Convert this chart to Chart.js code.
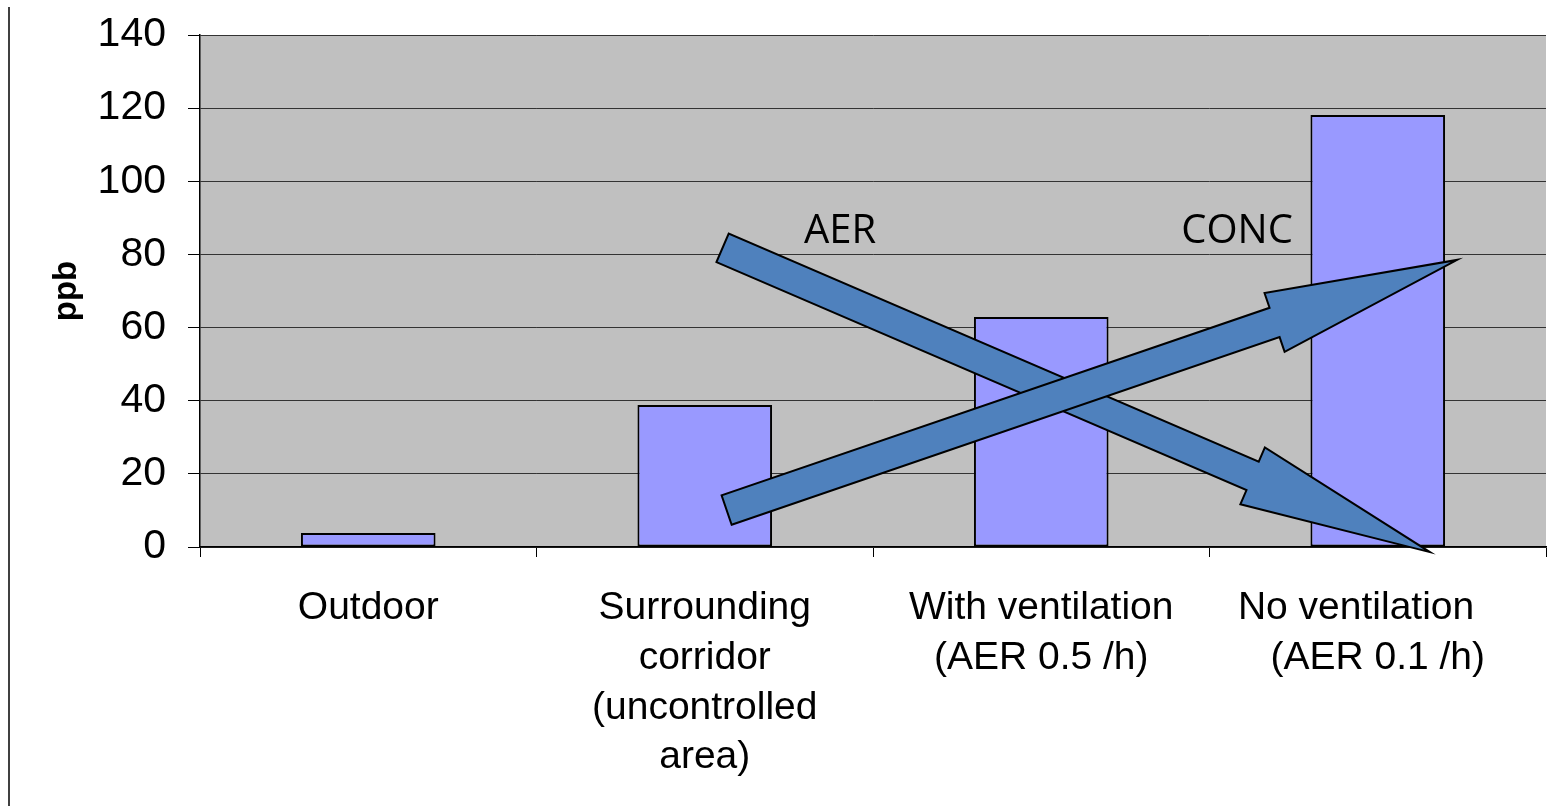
<!DOCTYPE html>
<html lang="en">
<head>
    <meta charset="UTF-8">
    <title>ppb by location</title>
    <script src="https://cdn.jsdelivr.net/npm/chart.js"></script>
    <style>
        body {
            margin: 0;
            background: #fff;
        }
        #wrap {
            width: 1560px;
            height: 806px;
        }
    </style>
</head>
<body>
    <div id="wrap"><canvas id="ppbChart" width="1560" height="806"></canvas></div>

    <script>
        // chart data
        const categories = [
            ['Outdoor'],
            ['Surrounding', 'corridor', '(uncontrolled', 'area)'],
            ['With ventilation', '(AER 0.5 /h)'],
            ['No ventilation    ', '(AER 0.1 /h)']
        ];
        const ppbValues = [3.8, 38.8, 62.9, 118.1];
        const yTicks = [0, 20, 40, 60, 80, 100, 120, 140];

        // the two annotation arrows, in axis units (category index, ppb)
        const arrows = [
            { text: 'AER',  from: [1.053, 81.8], to: [3.155, -1.4], textAt: [1.402, 86.2] },
            { text: 'CONC', from: [1.065, 10.1], to: [3.236, 78.5], textAt: [2.582, 86.2] }
        ];

        // grey plot background + left frame line
        const backdrop = {
            id: 'backdrop',
            beforeDraw(chart) {
                const { ctx, chartArea: a } = chart;
                ctx.save();
                ctx.fillStyle = '#c0c0c0';
                ctx.fillRect(a.left, a.top, a.right - a.left, a.bottom - a.top);
                ctx.strokeStyle = '#404040';
                ctx.lineWidth = 2;
                ctx.beginPath();
                ctx.moveTo(9, 7);
                ctx.lineTo(9, 806);
                ctx.stroke();
                ctx.restore();
            }
        };

        // block arrows drawn on top of the bars
        const arrowPlugin = {
            id: 'arrowPlugin',
            afterDatasetsDraw(chart) {
                const { ctx, scales: { x, y } } = chart;
                const shaft = 15.5, head = 31, headLen = 193;
                ctx.save();
                arrows.forEach(ar => {
                    const x0 = x.getPixelForValue(ar.from[0]), y0 = y.getPixelForValue(ar.from[1]);
                    const x1 = x.getPixelForValue(ar.to[0]), y1 = y.getPixelForValue(ar.to[1]);
                    const len = Math.hypot(x1 - x0, y1 - y0);
                    const ux = (x1 - x0) / len, uy = (y1 - y0) / len;
                    const nx = -uy, ny = ux;
                    const bx = x1 - ux * headLen, by = y1 - uy * headLen;
                    ctx.beginPath();
                    ctx.moveTo(x0 + nx * shaft, y0 + ny * shaft);
                    ctx.lineTo(bx + nx * shaft, by + ny * shaft);
                    ctx.lineTo(bx + nx * head, by + ny * head);
                    ctx.lineTo(x1, y1);
                    ctx.lineTo(bx - nx * head, by - ny * head);
                    ctx.lineTo(bx - nx * shaft, by - ny * shaft);
                    ctx.lineTo(x0 - nx * shaft, y0 - ny * shaft);
                    ctx.closePath();
                    ctx.fillStyle = '#4f81bd';
                    ctx.fill();
                    ctx.lineWidth = 2;
                    ctx.lineJoin = 'miter';
                    ctx.strokeStyle = '#000';
                    ctx.stroke();

                    ctx.fillStyle = '#000';
                    ctx.font = '40px "Open Sans", sans-serif';
                    ctx.textAlign = 'center';
                    ctx.textBaseline = 'middle';
                    ctx.fillText(ar.text, x.getPixelForValue(ar.textAt[0]), y.getPixelForValue(ar.textAt[1]));
                });
                ctx.restore();
            }
        };

        const ctx = document.getElementById('ppbChart').getContext('2d');
        new Chart(ctx, {
            type: 'bar',
            data: {
                labels: categories,
                datasets: [{
                    data: ppbValues,
                    backgroundColor: '#9999ff',
                    borderColor: '#000',
                    borderWidth: 2,
                    borderSkipped: false,
                    barPercentage: 0.4,
                    categoryPercentage: 1.0
                }]
            },
            options: {
                responsive: false,
                animation: false,
                layout: { padding: { top: 35, right: 14, left: 0, bottom: 0 } },
                plugins: {
                    legend: { display: false },
                    tooltip: { enabled: false }
                },
                scales: {
                    x: {
                        afterFit(s) { s.height = 259; },
                        grid: {
                            offset: true,
                            drawOnChartArea: false,
                            color: '#000',
                            tickLength: 10
                        },
                        border: { color: '#000', width: 1.5 },
                        ticks: {
                            color: '#000',
                            maxRotation: 0,
                            autoSkip: false,
                            padding: 26,
                            font: { family: '"Liberation Sans", Arial, sans-serif', size: 39, lineHeight: 1.28 }
                        }
                    },
                    y: {
                        min: 0,
                        max: 140,
                        afterFit(s) {
                            s.width = 200;
                            s.paddingTop = 0;
                            s.paddingBottom = 0;
                        },
                        afterBuildTicks(s) { s.ticks = yTicks.map(v => ({ value: v })); },
                        grid: {
                            color: '#333',
                            tickLength: 12,
                            tickColor: '#000'
                        },
                        border: { color: '#000', width: 1.5 },
                        ticks: {
                            color: '#000',
                            padding: 22,
                            font: { family: '"Liberation Sans", Arial, sans-serif', size: 41 }
                        },
                        title: {
                            display: true,
                            text: 'ppb',
                            color: '#000',
                            padding: { top: 47, bottom: 0 },
                            font: { family: '"Liberation Sans", Arial, sans-serif', size: 33, weight: 'bold', lineHeight: 1.2 }
                        }
                    }
                }
            },
            plugins: [backdrop, arrowPlugin]
        });
    </script>
</body>
</html>
